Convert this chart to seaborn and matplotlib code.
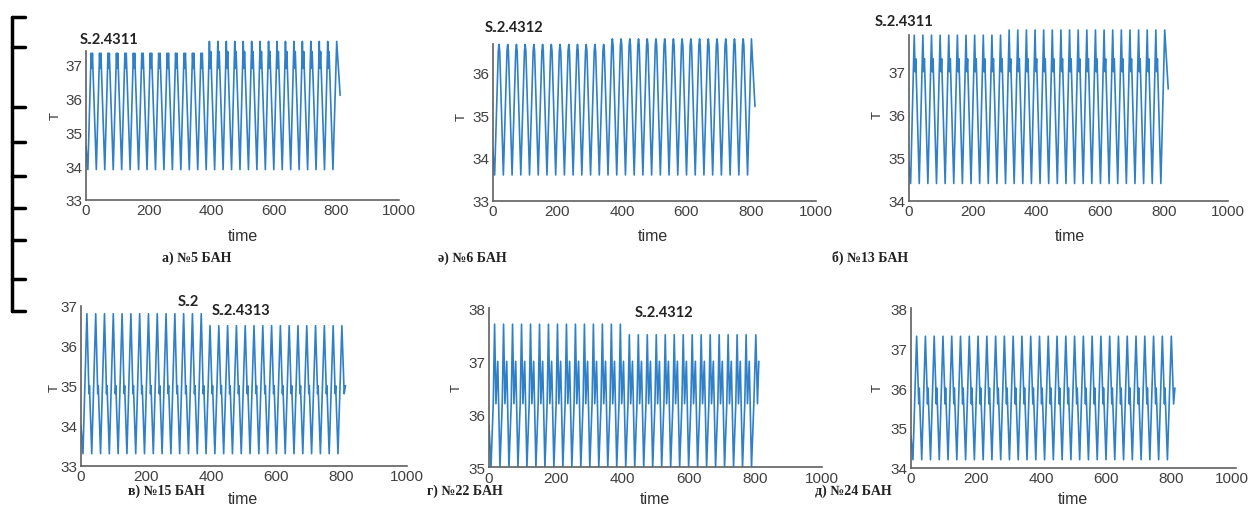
import numpy as np
import pandas as pd
import matplotlib
matplotlib.use("Agg")
import matplotlib.pyplot as plt
from matplotlib.lines import Line2D
import matplotlib.transforms as mtransforms
import seaborn as sns

# ---------------- data ----------------
PANELS = ["a", "b", "c", "v", "g", "d"]
CAPTIONS = ["а) №5 БАН", "ә) №6 БАН", "б) №13 БАН", "в) №15 БАН", "г) №22 БАН", "д) №24 БАН"]
PERIOD = 27.0          # time between successive minima
FIRST_MIN_T = 6.0      # time of the first minimum
N_CYCLES = 29          # full cycles drawn before the final partial one
SWITCH_T = [370, 355, 285, 365, 400, None]   # time when the peak level changes
START_VAL = [34.6, 34.2, 34.9, 34.0, 35.8, 34.8]

# one cycle (phase within the period, value) before / after the switch
PHASE_A = [0, 0.38, 0.46, 0.54, 1.0]
CYCLE_A1 = [33.9, 37.35, 36.9, 37.35, 33.9]
CYCLE_A2 = [33.9, 37.7, 36.9, 37.4, 33.9]
PHASE_B = [0, 0.42, 0.5, 0.58, 1.0]
CYCLE_B1 = [33.6, 36.5, 36.65, 36.5, 33.6]
CYCLE_B2 = [33.6, 36.63, 36.78, 36.63, 33.6]
PHASE_C = [0, 0.42, 0.52, 0.6, 1.0]
CYCLE_C1 = [34.4, 37.85, 37.0, 37.3, 34.4]
CYCLE_C2 = [34.4, 37.97, 37.0, 37.3, 34.4]
PHASE_V = [0, 0.45, 0.68, 0.74, 1.0]
CYCLE_V1 = [33.3, 36.8, 34.8, 35.0, 33.3]
CYCLE_V2 = [33.3, 36.5, 34.8, 35.0, 33.3]
PHASE_G = [0, 0.25, 0.4, 0.55, 0.75, 1.0]
CYCLE_G1 = [35.0, 36.2, 37.7, 36.2, 37.0, 35.0]
CYCLE_G2 = [35.0, 36.2, 37.5, 36.2, 37.0, 35.0]
PHASE_D = [0, 0.42, 0.66, 0.72, 1.0]
CYCLE_D1 = [34.2, 37.3, 35.6, 36.0, 34.2]
CYCLE_D2 = [34.2, 37.3, 35.6, 36.0, 34.2]

END_T_A = [801, 812]; END_V_A = [37.7, 36.1]
END_T_B = [801, 812]; END_V_B = [36.78, 35.2]
END_T_C = [801, 812]; END_V_C = [37.97, 36.6]
END_T_V = [801, 808, 812]; END_V_V = [36.5, 34.8, 35.0]
END_T_G = [796, 802, 807, 811]; END_V_G = [36.2, 37.5, 36.2, 37.0]
END_T_D = [801, 808, 812]; END_V_D = [37.3, 35.6, 36.0]

S_TEXTS = [[("S₌2.4311", 80, 40)], [("S₌2.4312", 485, 28)], [("S₌2.4311", 875, 22)],
           [("S₌2", 178, 302), ("S₌2.4313", 212, 311)], [("S₌2.4312", 635, 313)], []]

YLIMS = [(33, 37.8), (33, 36.8), (34, 38.0), (33, 37), (35, 38), (34, 38)]
SPINE_TOP = [37.42, 36.66, 37.85, 37, 38, 38]
YTICKS = [[33, 34, 35, 36, 37], [33, 34, 35, 36], [34, 35, 36, 37],
          [33, 34, 35, 36, 37], [35, 36, 37, 38], [34, 35, 36, 37, 38]]
XTICKS = [0, 200, 400, 600, 800, 1000]

PHASES = [PHASE_A, PHASE_B, PHASE_C, PHASE_V, PHASE_G, PHASE_D]
CYC1 = [CYCLE_A1, CYCLE_B1, CYCLE_C1, CYCLE_V1, CYCLE_G1, CYCLE_D1]
CYC2 = [CYCLE_A2, CYCLE_B2, CYCLE_C2, CYCLE_V2, CYCLE_G2, CYCLE_D2]
END_T = [END_T_A, END_T_B, END_T_C, END_T_V, END_T_G, END_T_D]
END_V = [END_V_A, END_V_B, END_V_C, END_V_V, END_V_G, END_V_D]

# ---------------- layout (pixels of the 1251x506 picture) ----------------
W, H = 1251, 506
AX_PX = [(86, 399, 39, 201), (492.7, 815.7, 39, 201.7), (908.7, 1228.3, 29.7, 201.7),
         (81, 406.7, 306.7, 466.7), (489, 821.7, 309.3, 468.3), (911, 1236, 309.3, 468.7)]
TIME_POS = [(243, 237), (653, 237), (1070, 237), (243, 500), (655, 500), (1073, 500)]
T_POS = [(56, 116), (462, 117), (878, 115), (55, 388), (457, 388), (878, 388)]
CAP_POS = [(162, 258), (438, 258), (832, 258), (128, 491), (427, 491), (815, 491)]


def build_trace(i):
    t = [0.0]
    v = [START_VAL[i]]
    sw = SWITCH_T[i]
    for k in range(N_CYCLES):
        base = FIRST_MIN_T + k * PERIOD
        cyc = CYC1[i] if (sw is None or base < sw) else CYC2[i]
        for ph, val in zip(PHASES[i][:-1], cyc[:-1]):
            t.append(base + ph * PERIOD)
            v.append(val)
    t.append(FIRST_MIN_T + N_CYCLES * PERIOD)
    v.append(CYC2[i][-1])
    t += END_T[i]
    v += END_V[i]
    return pd.DataFrame({"time": t, "T": v})


sns.set_style("white")
SANS = ["Liberation Sans Narrow", "Liberation Sans", "DejaVu Sans"]
plt.rcParams["font.family"] = SANS

fig = plt.figure(figsize=(W / 100, H / 100), dpi=100)
LINE_COLOR = "#2f80c8"
GRAY = "#606060"

for i in range(6):
    x0, x1, ytop, ybot = AX_PX[i]
    ax = fig.add_axes([x0 / W, 1 - ybot / H, (x1 - x0) / W, (ybot - ytop) / H])
    ax.patch.set_alpha(0)
    df = build_trace(i)
    sns.lineplot(data=df, x="time", y="T", ax=ax, estimator=None, sort=False,
                 color=LINE_COLOR, linewidth=1.2)
    ax.set_xlim(0, 1000)
    ax.set_ylim(*YLIMS[i])
    ax.set_xticks(XTICKS)
    ax.set_yticks(YTICKS[i])
    ax.set_xlabel("")
    ax.set_ylabel("")
    for s in ["top", "right"]:
        ax.spines[s].set_visible(False)
    for s in ["left", "bottom"]:
        ax.spines[s].set_color(GRAY)
        ax.spines[s].set_linewidth(1.2)
    ax.spines["left"].set_bounds(YLIMS[i][0], SPINE_TOP[i])
    ax.tick_params(axis="both", direction="in", length=3, width=1, color=GRAY,
                   labelsize=11, labelcolor="#404040", pad=2.5)
    if i == 5:
        # keep the last tick label inside the picture (as in the reference)
        last = ax.get_xticklabels()[-1]
        last.set_transform(last.get_transform() +
                           mtransforms.ScaledTranslation(-4 / 100, 0, fig.dpi_scale_trans))

    fig.text(TIME_POS[i][0] / W, 1 - TIME_POS[i][1] / H, "time", ha="center", va="center",
             fontsize=11.5, color="#303030")
    fig.text(T_POS[i][0] / W, 1 - T_POS[i][1] / H, "T", ha="center", va="center",
             fontsize=9.5, color="#303030", rotation=90)
    fig.text(CAP_POS[i][0] / W, 1 - CAP_POS[i][1] / H, CAPTIONS[i], ha="left", va="center",
             fontsize=10, fontweight="bold", color="#222222",
             family=["Liberation Serif", "DejaVu Serif"])
    for txt, px, py in S_TEXTS[i]:
        fig.text(px / W, 1 - py / H, txt, ha="left", va="center", fontsize=10.5,
                 fontweight="bold", color="#222222", family=["Lato", "DejaVu Sans"])

# left bracket decoration
BRACKET_X = 12
BRACKET_TICKS = [48, 108, 143, 177, 209, 241, 280]
fig.add_artist(Line2D([BRACKET_X / W] * 2, [1 - 18 / H, 1 - 312 / H], color="black", lw=2.5))
for yy in [18, 312]:
    fig.add_artist(Line2D([BRACKET_X / W, 25 / W], [1 - yy / H] * 2, color="black", lw=2.5))
for yy in BRACKET_TICKS:
    fig.add_artist(Line2D([BRACKET_X / W, 25 / W], [1 - yy / H] * 2, color="black", lw=2.5))

fig.savefig("out.png", dpi=100)
